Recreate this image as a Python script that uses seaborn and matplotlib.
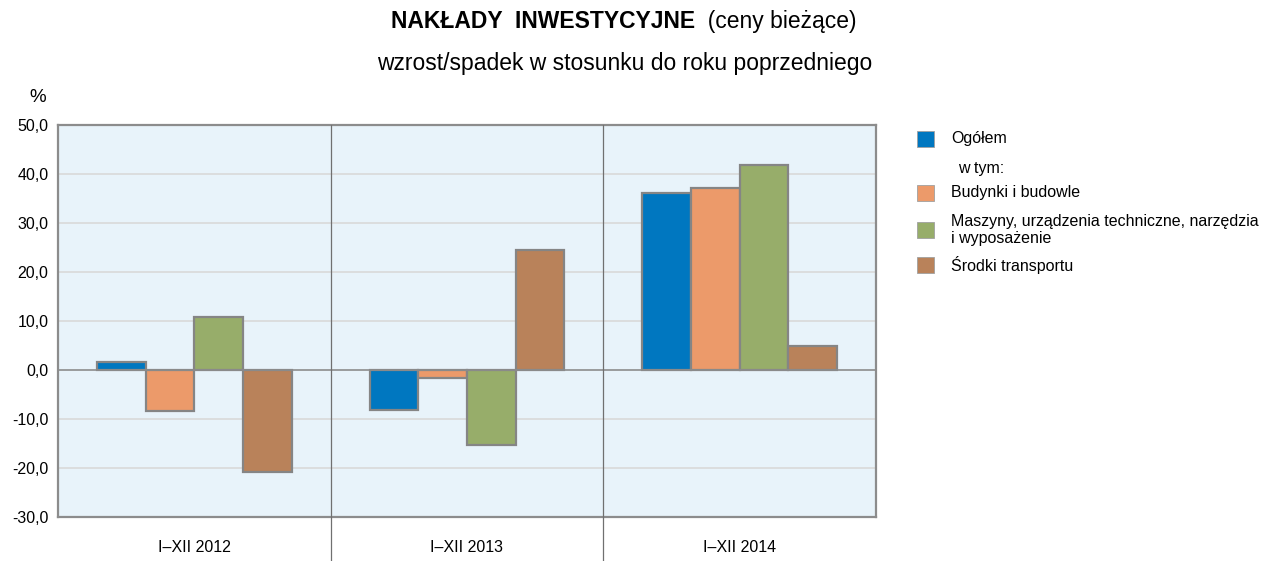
import pandas as pd
import matplotlib.pyplot as plt
import matplotlib.patches as mpatches
import seaborn as sns

# Datos
okresy = ['I–XII 2012', 'I–XII 2013', 'I–XII 2014']
serie = ['Ogółem', 'Budynki i budowle',
         'Maszyny, urządzenia techniczne, narzędzia\ni wyposażenie',
         'Środki transportu']
ogolem = [1.6, -8.2, 36.1]
budynki = [-8.4, -1.6, 37.1]
maszyny = [10.8, -15.3, 41.8]
transport = [-20.8, 24.5, 4.9]
kolory = ['#0077C0', '#EC9A6A', '#97AD6A', '#B9825A']
yticks = [-30, -20, -10, 0, 10, 20, 30, 40, 50]

filas = []
for nombre, valores in zip(serie, [ogolem, budynki, maszyny, transport]):
    for okres, v in zip(okresy, valores):
        filas.append({'okres': okres, 'seria': nombre, 'wartosc': v})
df = pd.DataFrame(filas)

sns.set_style('white')
plt.rcParams['font.family'] = ['Liberation Sans', 'DejaVu Sans']
plt.rcParams['text.color'] = 'black'
plt.rcParams['ytick.labelcolor'] = 'black'

fig = plt.figure(figsize=(12.62, 5.61), dpi=100)
ax = fig.add_axes([0.046, 0.0784, 0.648, 0.6988])
ax.set_facecolor('#E8F3FA')

sns.barplot(data=df, x='okres', y='wartosc', hue='seria', hue_order=serie,
            palette=kolory, saturation=1, width=0.714, gap=0, ax=ax,
            edgecolor='#858585', linewidth=1.6, legend=False, errorbar=None)

ax.set_ylim(-30, 50)
ax.set_xlim(-0.5, 2.5)
ax.set_yticks(yticks)
ax.set_yticklabels([f'{t:.1f}'.replace('.', ',') for t in yticks], fontsize=11.5)
ax.set_xticks([])
ax.set_xlabel('')
ax.set_ylabel('')
ax.tick_params(axis='y', length=5, color='#808080', pad=2, labelcolor='black')

for t in yticks:
    if t != 0:
        ax.axhline(t, color='#D9D9D9', lw=1.2, zorder=0)
ax.axhline(0, color='#8C8C8C', lw=1.2, zorder=3)

for s in ax.spines.values():
    s.set_color('#8C8C8C')
    s.set_linewidth(1.6)

# separadores de categorías
for xs in [0.5, 1.5]:
    ax.plot([xs, xs], [50, -39.2], color='#707070', lw=0.9, zorder=4, clip_on=False)

for i, okres in enumerate(okresy):
    ax.text(i, -36.3, okres, ha='center', va='center', fontsize=11.5, color='black')

# títulos
fig.text(0.551, 0.962, 'NAKŁADY  INWESTYCYJNE', ha='right', va='center',
         fontsize=16.5, fontweight='bold', color='black')
fig.text(0.551, 0.962, '  (ceny bieżące)', ha='left', va='center', fontsize=16.5,
         color='black')
fig.text(0.495, 0.887, 'wzrost/spadek w stosunku do roku poprzedniego',
         ha='center', va='center', fontsize=16.5, color='black')
fig.text(0.03, 0.826, '%', ha='center', va='center', fontsize=13.5, color='black')

# leyenda
pos_y = [139, 193, 230, 265]
for nombre, color, py in zip(serie, kolory, pos_y):
    yf = 1 - py / 561
    fig.patches.append(mpatches.Rectangle((917 / 1262, yf - 8 / 561), 17 / 1262, 16 / 561,
                                          transform=fig.transFigure, facecolor=color,
                                          edgecolor='#A0A0A0', lw=0.6))
    fig.text(951 / 1262, yf, nombre, ha='left', va='center', fontsize=11.5,
             linespacing=1.15, color='black')
fig.text(958 / 1262, 1 - 168 / 561, 'w tym:', ha='left', va='center', fontsize=11.5,
         color='black')

plt.savefig('out.png', dpi=100)
